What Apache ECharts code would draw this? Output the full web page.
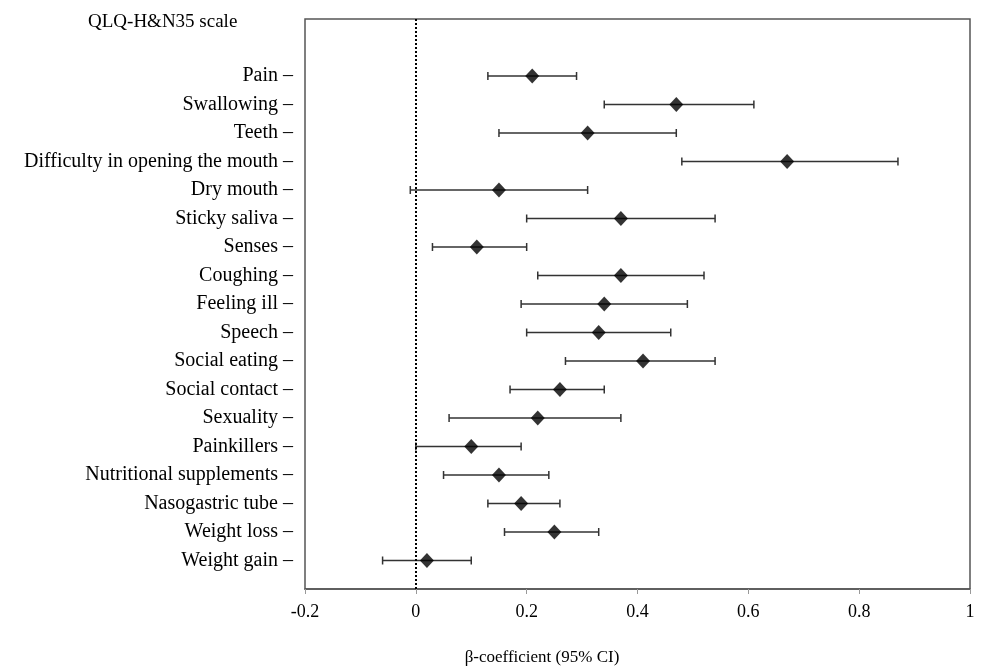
<!DOCTYPE html>
<html>
<head>
<meta charset="utf-8">
<script src="https://cdn.jsdelivr.net/npm/echarts@6/dist/echarts.min.js"></script>
<style>
  html, body { margin: 0; padding: 0; background: #fff; }
  #chart { width: 984px; height: 668px; }
</style>
</head>
<body>
<div id="chart"></div>
<script>
const categories = [
  'Pain', 'Swallowing', 'Teeth', 'Difficulty in opening the mouth', 'Dry mouth',
  'Sticky saliva', 'Senses', 'Coughing', 'Feeling ill', 'Speech', 'Social eating',
  'Social contact', 'Sexuality', 'Painkillers', 'Nutritional supplements',
  'Nasogastric tube', 'Weight loss', 'Weight gain'
]
const beta = [0.21, 0.47, 0.31, 0.67, 0.15, 0.37, 0.11, 0.37, 0.34, 0.33, 0.41, 0.26, 0.22, 0.10, 0.15, 0.19, 0.25, 0.02]
const lower = [0.13, 0.34, 0.15, 0.48, -0.01, 0.20, 0.03, 0.22, 0.19, 0.20, 0.27, 0.17, 0.06, 0.00, 0.05, 0.13, 0.16, -0.06]
const upper = [0.29, 0.61, 0.47, 0.87, 0.31, 0.54, 0.20, 0.52, 0.49, 0.46, 0.54, 0.34, 0.37, 0.19, 0.24, 0.26, 0.33, 0.10]
const xTicks = [-0.2, 0, 0.2, 0.4, 0.6, 0.8, 1]

const font = '"Liberation Serif", "Times New Roman", serif'
const myChart = echarts.init(document.getElementById('chart'))

const ciData = categories.map((c, i) => [i, lower[i], upper[i]])
const pointData = categories.map((c, i) => [beta[i], i])

let option = {
  animation: false,
  title: [
    {
      text: 'QLQ-H&N35 scale',
      left: 83,
      top: 8,
      textStyle: { fontFamily: font, fontSize: 19, fontWeight: 'normal', color: '#000' }
    },
    {
      text: 'β-coefficient (95% CI)',
      left: 537,
      top: 644,
      textAlign: 'center',
      textStyle: { fontFamily: font, fontSize: 17, fontWeight: 'normal', color: '#000' }
    }
  ],
  grid: {
    left: 305,
    right: 14,
    top: 19,
    bottom: 79,
    show: true,
    borderColor: '#555',
    borderWidth: 1.5
  },
  xAxis: {
    type: 'value',
    min: -0.2,
    max: 1,
    interval: 0.2,
    axisLine: { show: true, onZero: false, lineStyle: { color: '#555', width: 1.5 } },
    axisTick: { show: true, length: 5, lineStyle: { color: '#999' } },
    splitLine: { show: false },
    axisLabel: {
      margin: 14,
      fontFamily: font,
      fontSize: 18,
      color: '#000',
      formatter: (v) => {
        const t = xTicks.find((x) => Math.abs(x - v) < 1e-6)
        return t === undefined ? '' : String(t)
      }
    }
  },
  yAxis: {
    type: 'value',
    inverse: true,
    min: -2,
    max: 18,
    interval: 1,
    axisLine: { show: false },
    axisTick: { show: false },
    splitLine: { show: false },
    axisLabel: {
      margin: 12,
      fontFamily: font,
      fontSize: 20,
      color: '#000',
      formatter: (v) => (categories[v] !== undefined ? categories[v] + ' –' : '')
    }
  },
  series: [
    {
      type: 'custom',
      name: 'CI',
      data: ciData,
      renderItem: (params, api) => {
        const row = api.value(0)
        const lo = api.coord([api.value(1), row])
        const hi = api.coord([api.value(2), row])
        const cap = 4
        const style = { stroke: '#333', lineWidth: 1.5 }
        return {
          type: 'group',
          children: [
            { type: 'line', shape: { x1: lo[0], y1: lo[1], x2: hi[0], y2: hi[1] }, style },
            { type: 'line', shape: { x1: lo[0], y1: lo[1] - cap, x2: lo[0], y2: lo[1] + cap }, style },
            { type: 'line', shape: { x1: hi[0], y1: hi[1] - cap, x2: hi[0], y2: hi[1] + cap }, style }
          ]
        }
      },
      encode: { x: [1, 2], y: 0 },
      z: 2
    },
    {
      type: 'scatter',
      name: 'β',
      data: pointData,
      symbol: 'diamond',
      symbolSize: [14, 15],
      itemStyle: { color: '#000' },
      z: 3,
      markLine: {
        silent: true,
        symbol: 'none',
        label: { show: false },
        lineStyle: { type: 'dotted', color: '#000', width: 2 },
        data: [{ xAxis: 0 }]
      }
    }
  ]
}
option && myChart.setOption(option)
</script>
</body>
</html>
